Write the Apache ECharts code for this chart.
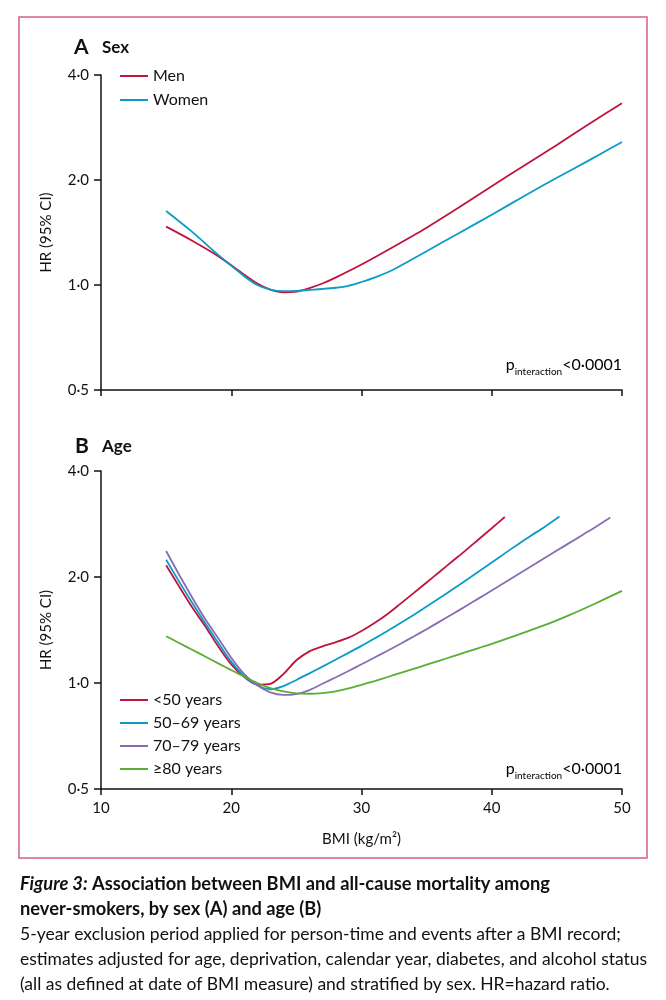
<!DOCTYPE html>
<html>
<head>
<meta charset="utf-8">
<script src="https://cdn.jsdelivr.net/npm/echarts@6/dist/echarts.min.js"></script>
<style>
html,body{margin:0;padding:0;background:#fff;}
#c{width:666px;height:1000px;}
</style>
</head>
<body>
<div id="c"></div>
<script>
// ---- Data ----
const xTicks = [10, 20, 30, 40, 50];
const yTicks = [0.5, 1, 2, 4];

// Panel A: Sex
const menBMI   = [15, 17, 19, 21, 22, 23, 24, 25, 26, 27, 28, 30, 32.5, 35, 37.5, 40, 42.5, 45, 47.5, 50];
const menHR    = [1.47, 1.34, 1.21, 1.07, 1.01, 0.97, 0.953, 0.957, 0.98, 1.01, 1.05, 1.145, 1.29, 1.46, 1.67, 1.92, 2.2, 2.52, 2.9, 3.32];
const womenBMI = [15, 17, 19, 21, 22, 23, 24, 25, 26, 27, 28, 29, 30, 31, 32.5, 35, 37.5, 40, 42.5, 45, 47.5, 50];
const womenHR  = [1.63, 1.42, 1.22, 1.06, 1.0, 0.97, 0.96, 0.962, 0.968, 0.974, 0.982, 0.995, 1.02, 1.05, 1.11, 1.25, 1.41, 1.59, 1.8, 2.03, 2.28, 2.57];

// Panel B: Age
const age1BMI = [15, 16, 17, 18, 19, 20, 21, 22, 23, 24, 25, 26, 27, 28, 29, 30, 31, 32, 33, 34, 35, 36, 37, 38, 39, 40, 41];
const age1HR  = [2.16, 1.88, 1.64, 1.45, 1.27, 1.13, 1.04, 0.99, 0.995, 1.06, 1.16, 1.23, 1.27, 1.305, 1.345, 1.405, 1.48, 1.57, 1.68, 1.8, 1.93, 2.07, 2.22, 2.38, 2.56, 2.75, 2.96];
const age2BMI = [15, 16, 17, 18, 19, 20, 21, 22, 23, 24, 25, 26, 27, 28, 29, 30, 31, 32, 33, 34, 35, 36, 37, 38, 39, 40, 41, 42, 43, 44, 45.2];
const age2HR  = [2.24, 1.94, 1.69, 1.48, 1.3, 1.15, 1.045, 0.985, 0.96, 0.98, 1.02, 1.065, 1.113, 1.164, 1.218, 1.275, 1.338, 1.405, 1.48, 1.561, 1.649, 1.743, 1.845, 1.955, 2.072, 2.199, 2.334, 2.475, 2.62, 2.765, 2.97];
const age3BMI = [15, 16, 17, 18, 19, 20, 21, 22, 23, 24, 25, 26, 27, 28, 29, 30, 31, 32, 33, 34, 35, 36, 37, 38, 39, 40, 41, 42, 43, 44, 45, 46, 47, 48, 49.1];
const age3HR  = [2.37, 2.03, 1.75, 1.52, 1.34, 1.18, 1.06, 0.985, 0.94, 0.925, 0.93, 0.955, 0.995, 1.037, 1.082, 1.13, 1.181, 1.235, 1.293, 1.355, 1.422, 1.494, 1.57, 1.652, 1.739, 1.831, 1.929, 2.032, 2.141, 2.256, 2.377, 2.504, 2.638, 2.779, 2.95];
const age4BMI = [15, 16, 17, 18, 19, 20, 21, 22, 23, 24, 25, 26, 27, 28, 29, 30, 31, 32, 33, 34, 35, 36, 37, 38, 39, 40, 42, 44, 46, 48, 50];
const age4HR  = [1.358, 1.299, 1.243, 1.189, 1.137, 1.088, 1.042, 1.0, 0.967, 0.946, 0.935, 0.932, 0.936, 0.947, 0.965, 0.988, 1.013, 1.04, 1.068, 1.097, 1.127, 1.158, 1.19, 1.223, 1.257, 1.292, 1.37, 1.457, 1.562, 1.685, 1.826];

const sexNames = ['Men', 'Women'];
const ageNames = ['<50 years', '50–69 years', '70–79 years', '≥80 years'];

// ---- Styling ----
const FONT = 'Lato';
const C_RED = '#c0143c', C_CYAN = '#0a9cc7', C_PURPLE = '#8a6cb3', C_GREEN = '#5aae32';
const zip = (xs, ys) => xs.map((x, i) => [x, ys[i]]);
const fmt = v => v.toFixed(1).replace('.', '·');

function xAxis(gridIndex, showLabels) {
  return {
    type: 'value', gridIndex, min: 10, max: 50, interval: 10,
    axisLine: {show: true, onZero: false, lineStyle: {color: '#111', width: 1.5}},
    axisTick: {show: true, inside: false, length: 6, lineStyle: {color: '#111', width: 1.5}},
    axisLabel: {show: showLabels, margin: 12, fontFamily: FONT, fontSize: 15, color: '#111',
      formatter: v => xTicks.includes(v) ? String(v) : ''},
    splitLine: {show: false},
    name: showLabels ? 'BMI (kg/m²)' : '', nameLocation: 'middle', nameGap: 43,
    nameTextStyle: {fontFamily: FONT, fontSize: 15, color: '#111'}
  };
}
function yAxis(gridIndex) {
  return {
    type: 'log', logBase: 2, gridIndex, min: 0.5, max: 4,
    axisLine: {show: true, lineStyle: {color: '#111', width: 1.5}},
    axisTick: {show: true, inside: false, length: 7, lineStyle: {color: '#111', width: 1.5}},
    axisLabel: {margin: 12, fontFamily: FONT, fontSize: 15, color: '#111',
      formatter: v => fmt(v)},
    splitLine: {show: false},
    name: 'HR (95% CI)', nameLocation: 'middle', nameGap: 47, nameRotate: 90,
    nameTextStyle: {fontFamily: FONT, fontSize: 15, color: '#111'}
  };
}
function line(name, xi, data, color) {
  return {name, type: 'line', xAxisIndex: xi, yAxisIndex: xi, data, smooth: 0.3,
    showSymbol: false, lineStyle: {color, width: 1.8}, itemStyle: {color}, z: 3};
}

const chart = echarts.init(document.getElementById('c'), null, {renderer: 'canvas'});

const pText = (y) => ({
  type: 'text', right: 666 - 622, top: y,
  style: {
    text: '{p|p}{s|interaction}{p|<0·0001}',
    rich: {
      p: {fontFamily: FONT, fontSize: 16, color: '#111', lineHeight: 20, verticalAlign: 'bottom'},
      s: {fontFamily: FONT, fontSize: 10, color: '#111', lineHeight: 20, verticalAlign: 'bottom', padding: [0, 0, -4, 0]}
    }
  }
});

const cap = {fontFamily: FONT, fontSize: 17.5, fill: '#111'};

chart.setOption({
  animation: false,
  backgroundColor: '#fff',
  grid: [
    {left: 101, top: 75, width: 521, height: 315},
    {left: 101, top: 471, width: 521, height: 318}
  ],
  xAxis: [xAxis(0, false), xAxis(1, true)],
  yAxis: [yAxis(0), yAxis(1)],
  legend: [
    {data: sexNames, left: 115, top: 63, orient: 'vertical', itemWidth: 28, itemHeight: 2, itemGap: 8,
      icon: 'rect', textStyle: {fontFamily: FONT, fontSize: 16, color: '#111'}, selectedMode: false},
    {data: ageNames, left: 115, top: 687, orient: 'vertical', itemWidth: 28, itemHeight: 2, itemGap: 7,
      icon: 'rect', textStyle: {fontFamily: FONT, fontSize: 16, color: '#111'}, selectedMode: false}
  ],
  series: [
    line(sexNames[0], 0, zip(menBMI, menHR), C_RED),
    line(sexNames[1], 0, zip(womenBMI, womenHR), C_CYAN),
    line(ageNames[0], 1, zip(age1BMI, age1HR), C_RED),
    line(ageNames[1], 1, zip(age2BMI, age2HR), C_CYAN),
    line(ageNames[2], 1, zip(age3BMI, age3HR), C_PURPLE),
    line(ageNames[3], 1, zip(age4BMI, age4HR), C_GREEN)
  ],
  graphic: [
    {type: 'rect', shape: {x: 19, y: 17, width: 628, height: 841},
      style: {fill: 'none', stroke: '#d4607f', lineWidth: 1.5}, z: 0},
    {type: 'text', left: 74, top: 37, style: {text: 'A', fontFamily: FONT, fontSize: 21, fontWeight: 'bold', fill: '#111'}},
    {type: 'text', left: 102, top: 39, style: {text: 'Sex', fontFamily: FONT, fontSize: 17, fontWeight: 'bold', fill: '#111'}},
    {type: 'text', left: 75, top: 436, style: {text: 'B', fontFamily: FONT, fontSize: 21, fontWeight: 'bold', fill: '#111'}},
    {type: 'text', left: 102, top: 438, style: {text: 'Age', fontFamily: FONT, fontSize: 17, fontWeight: 'bold', fill: '#111'}},
    pText(357),
    pText(761),
    {type: 'text', left: 20, top: 875, style: {
      text: '{i|Figure 3:}{b| Association between BMI and all-cause mortality among}',
      rich: {
        i: {fontFamily: FONT, fontSize: 18.3, fontStyle: 'italic', fontWeight: 'bold', fill: '#111'},
        b: {fontFamily: FONT, fontSize: 18.3, fontWeight: 'bold', fill: '#111'}
      }}},
    {type: 'text', left: 20, top: 900, style: Object.assign({}, cap, {text: 'never-smokers, by sex (A) and age (B)', fontWeight: 'bold', fontSize: 18.3})},
    {type: 'text', left: 20, top: 925, style: Object.assign({}, cap, {text: '5-year exclusion period applied for person-time and events after a BMI record;'})},
    {type: 'text', left: 20, top: 950, style: Object.assign({}, cap, {text: 'estimates adjusted for age, deprivation, calendar year, diabetes, and alcohol status'})},
    {type: 'text', left: 20, top: 975, style: Object.assign({}, cap, {text: '(all as defined at date of BMI measure) and stratified by sex. HR=hazard ratio.'})}
  ]
});
</script>
</body>
</html>
